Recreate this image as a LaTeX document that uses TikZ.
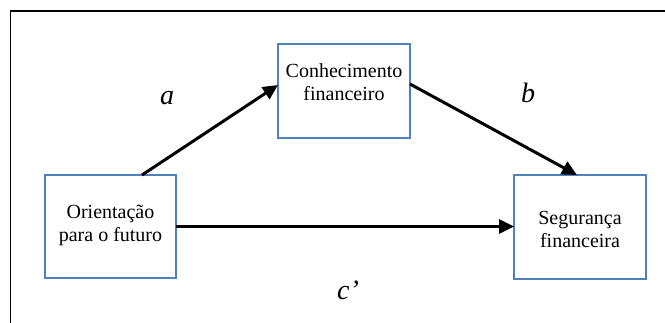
\documentclass[tikz,border=0pt]{standalone}
\usepackage{fontspec}
\setmainfont{Liberation Serif}
\usetikzlibrary{arrows.meta,calc}
\definecolor{boxblue}{HTML}{4F81BD}
\tikzset{
  box/.style={draw=boxblue, line width=1.3pt, inner sep=0pt, outer sep=0pt, fill=white},
  txt/.style={align=center, font=\fontsize{20}{23}\selectfont, inner sep=0pt},
  lbl/.style={font=\fontsize{28}{30}\selectfont\itshape, inner sep=0pt},
  arr/.style={line width=3pt, -{Triangle[length=15pt,width=14pt]}},
  frame/.style={line width=1.8pt, black}
}
\begin{document}
\begin{tikzpicture}[x=1pt,y=-1pt]
\useasboundingbox (0,0) rectangle (665,322);
\draw[frame] (10.5,330) -- (10.5,11) -- (680,11);
\node[box, minimum width=131pt, minimum height=103pt] (o) at (110.5,226.5) {};
\node[box, minimum width=132pt, minimum height=94pt] (k) at (344,91) {};
\node[box, minimum width=132pt, minimum height=104pt] (s) at (580,227) {};
\node[txt] (ot) at (110.5,225) {Orientação\\para o futuro};
\node[txt] (kt) at (344,82) {Conhecimento\\financeiro};
\node[txt] (st) at (580,229) {Segurança\\financeira};
\draw[arr] ([xshift=31.5pt]o.north) -- ([yshift=6pt]k.west);
\draw[arr] ([yshift=7pt]k.east) -- ([xshift=-3pt]s.north);
\draw[arr] (o.east) -- (o.east -| s.west);
\node[lbl] (la) at (167,98) {a};
\node[lbl] (lb) at (528,93) {b};
\node[lbl, anchor=base] (lc) at (348,299) {c’};
\end{tikzpicture}
\end{document}
